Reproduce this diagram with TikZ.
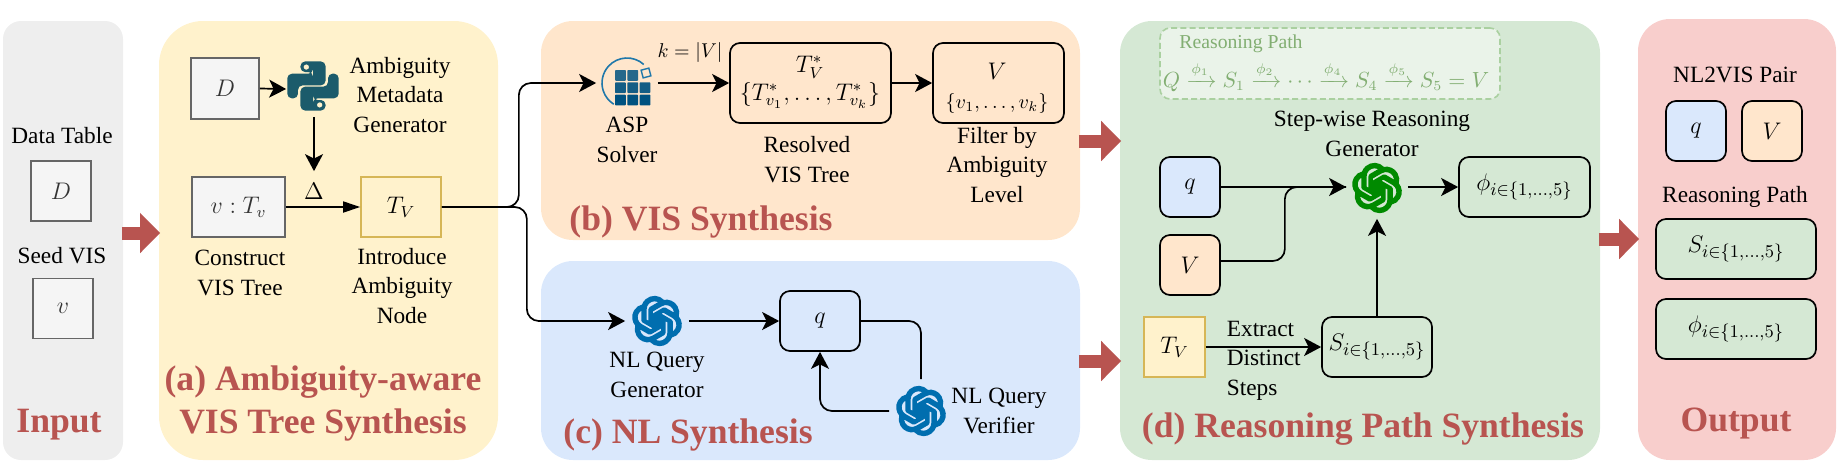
\documentclass[tikz,border=0pt]{standalone}
\usepackage{amsmath}
\usepackage{fontspec}
\setmainfont{Liberation Serif}
\usetikzlibrary{arrows.meta,svg.path}

\definecolor{redtext}{HTML}{B85450}
\definecolor{graybg}{HTML}{EEEEEE}
\definecolor{yellowbg}{HTML}{FFF2CC}
\definecolor{orangebg}{HTML}{FFE6CC}
\definecolor{bluebg}{HTML}{DAE8FC}
\definecolor{greenbg}{HTML}{D5E8D4}
\definecolor{pinkbg}{HTML}{F8CECC}
\definecolor{boxgray}{HTML}{666666}
\definecolor{boxfill}{HTML}{F5F5F5}
\definecolor{boxyellow}{HTML}{D6B656}
\definecolor{gptblue}{HTML}{006EAF}
\definecolor{gptgreen}{HTML}{008A00}
\definecolor{pycolor}{HTML}{1B5B6B}
\definecolor{pathgreen}{HTML}{82AE72}
\definecolor{pathdash}{HTML}{AAD0A0}
\definecolor{pathfill}{HTML}{EAF3E9}
\definecolor{aspring}{HTML}{2078AA}
\definecolor{aspgrid}{HTML}{005280}

\tikzset{
  panel/.style={draw=none,inner sep=0pt},
  lbl/.style={inner sep=0pt,align=center,anchor=base,font=\fontsize{11.65}{14.6}\selectfont},
  paneltitle/.style={inner sep=0pt,align=center,anchor=base,text=redtext,font=\bfseries\fontsize{17.8}{21.5}\selectfont},
  mathbox/.style={draw,line width=.85pt,rounded corners=5pt,inner sep=0pt,font=\fontsize{11.65}{14}\selectfont},
  graybox/.style={draw=boxgray,fill=boxfill,line width=.85pt,inner sep=0pt,text=black!80,font=\fontsize{11.65}{14}\selectfont},
  yellowbox/.style={draw=boxyellow,fill=yellowbg,line width=.85pt,inner sep=0pt,font=\fontsize{11.65}{14}\selectfont},
  subfont/.style={font=\fontsize{12.5}{14}\selectfont},
  iconspot/.style={circle,inner sep=0pt,minimum size=#1},
  bigarrow/.style={draw=redtext,line width=6.5pt,-{Triangle[length=10pt,width=19.5pt]},shorten >=-1pt,shorten <=-1pt},
  pics/gptlogo/.style={code={
    \begin{scope}[scale=1,yscale=-1,shift={(-12pt,-12pt)}]
      \filldraw[#1,even odd rule,line width=1.15pt,line join=round] svg {M 22.2819 9.8211 a 5.9847 5.9847 0 0 0 -0.5157 -4.9108 a 6.0462 6.0462 0 0 0 -6.5098 -2.9 A 6.0651 6.0651 0 0 0 4.9807 4.1818 a 5.9847 5.9847 0 0 0 -3.9977 2.9 a 6.0462 6.0462 0 0 0 0.7427 7.0966 a 5.98 5.98 0 0 0 0.511 4.9107 a 6.051 6.051 0 0 0 6.5146 2.9001 A 5.9847 5.9847 0 0 0 13.2599 24 a 6.0557 6.0557 0 0 0 5.7718 -4.2058 a 5.9894 5.9894 0 0 0 3.9977 -2.9001 a 6.0557 6.0557 0 0 0 -0.7475 -7.0729 z
        M 13.2599 22.4292 a 4.4755 4.4755 0 0 1 -2.8764 -1.0408 l 0.1419 -0.0804 l 4.7783 -2.7582 l 0.3927 -0.6813 v -6.7369 l 2.02 1.1686 l 0.038 0.052 v 5.5826 a 4.504 4.504 0 0 1 -4.4945 4.4944 z
        M 3.5992 18.3038 a 4.4708 4.4708 0 0 1 -0.5346 -3.0137 l 0.142 0.0852 l 4.783 2.7582 l 0.7806 0 l 5.8428 -3.3685 v 2.3324 l -0.0332 0.0615 L 9.74 19.9502 a 4.4992 4.4992 0 0 1 -6.1408 -1.6464 z
        M 2.3408 7.8956 a 4.485 4.485 0 0 1 2.3655 -1.9728 V 11.6 l 0.3879 0.6765 l 5.8144 3.3543 l -2.0201 1.1685 l -0.071 0 l -4.8303 -2.7865 A 4.504 4.504 0 0 1 2.3408 7.872 z
        M 18.9371 11.7514 L 13.1038 8.364 L 15.1192 7.2 l 0.071 0 l 4.8303 2.7913 a 4.4944 4.4944 0 0 1 -0.6765 8.1042 v -5.6772 l -0.407 -0.667 z
        M 20.9478 8.7283 l -0.142 -0.0852 l -4.7735 -2.7818 l -0.7854 0 L 9.409 9.2297 V 6.8974 l 0.0284 -0.0615 l 4.8303 -2.7866 a 4.4992 4.4992 0 0 1 6.6802 4.66 z
        M 8.3065 12.863 l -2.02 -1.1638 l -0.038 -0.0567 V 6.0742 a 4.4992 4.4992 0 0 1 7.3757 -3.4537 l -0.142 0.0805 L 8.704 5.459 l -0.3927 0.6813 z};
    \end{scope}}},
  pics/pylogo/.style={code={
    \begin{scope}[x=1.08pt,y=-1.04pt,shift={(-12,-12)}]
      \foreach \a in {0,180}
        \fill[pycolor,even odd rule,rotate around={\a:(12,12)},rounded corners=2.3pt]
          (6.2,.2) -- (17.8,.2) -- (17.8,11.67) -- (5.05,11.67) -- (5.05,17.93) -- (.1,17.93)
          -- (.1,6.1) -- (12,6.1) -- (12,5.27) -- (6.2,5.27) -- cycle
          [sharp corners] (8.9,2.9) circle[radius=1.3];
    \end{scope}}},
  pics/aspicon/.style={code={
    \draw[aspring,line width=.8pt] (-48:25) arc[start angle=-48,end angle=-238,radius=25];
    \foreach \r/\c/\k in {0/.85/0,0/.85/1,1/.92/0,1/.92/1,1/.92/2,2/1/0,2/1/1,2/1/2}
      \fill[aspgrid,fill opacity=\c,rounded corners=.4pt] (-12+12.3*\k,-13+12.3*\r) rectangle ++(10.8,10.8);
    \draw[aspring,line width=.7pt,rotate around={15:(19,-10)}] (15,-14) rectangle (23,-6);
  }}
}

\begin{document}
\begin{tikzpicture}[x=.5pt,y=-.5pt,>={Stealth[length=8.5pt,width=9pt,inset=2.2pt]},line width=.85pt]
  \useasboundingbox (0,0) rectangle (1839,467);
  % panels
  \path
  node[panel,fill=graybg,rounded corners=9pt,minimum width=60pt,minimum height=219.5pt] (p_in) at (63,240.5) {}
  node[panel,fill=yellowbg,rounded corners=22pt,minimum width=169.5pt,minimum height=219.5pt] (p_a) at (328.5,240.5) {}
  node[panel,fill=orangebg,rounded corners=16pt,minimum width=269.5pt,minimum height=109.5pt] (p_b) at (810.5,130.5) {}
  node[panel,fill=bluebg,rounded corners=16pt,minimum width=269.5pt,minimum height=99.5pt] (p_c) at (810.5,360.5) {}
  node[panel,fill=greenbg,rounded corners=16pt,minimum width=240pt,minimum height=219.5pt] (p_d) at (1360,240.5) {}
  node[panel,fill=pinkbg,rounded corners=16pt,minimum width=99pt,minimum height=220.5pt] (p_out) at (1737,239.5) {}
  ;
  % arrows between panels
  \coordinate (r_in) at (140,233);
  \coordinate (r_b) at (1100,141);
  \coordinate (r_c) at (1100,361);
  \coordinate (r_out) at (1620,239);
  \draw[bigarrow] (p_in.east |- r_in) -- (p_a.west |- r_in);
  \draw[bigarrow] (p_b.east |- r_b) -- (p_d.west |- r_b);
  \draw[bigarrow] (p_c.east |- r_c) -- (p_d.west |- r_c);
  \draw[bigarrow] (p_d.east |- r_out) -- (p_out.west |- r_out);
  % input
  \path
  node[lbl] (l_table) at (62,143) {Data Table}
  node[graybox,minimum width=30pt,minimum height=30pt] (d_in) at (61,191) {$D$}
  node[lbl] (l_seed) at (62,263) {Seed VIS}
  node[graybox,minimum width=30pt,minimum height=30pt] (v_in) at (63,308.5) {$v$}
  node[paneltitle] (t_in) at (59,432) {Input}
  ;
  % (a)
  \pic at (313,86) {pylogo};
  \path
  node[graybox,minimum width=34pt,minimum height=30.5pt] (d_a) at (225,88.5) {$D$}
  node[iconspot=54*.5pt] (py) at (314,89) {}
  node[lbl] (l_meta) at (400,132) {Ambiguity\\Metadata\\Generator}
  node[graybox,minimum width=46.5pt,minimum height=30pt] (v_a) at (238.5,207) {$v:T_v$}
  node[yellowbox,minimum width=40pt,minimum height=30pt] (tv_a) at (401,207) {$T_V$}
  node[lbl] (l_cons) at (240,295) {Construct\\VIS Tree}
  node[lbl] (l_intro) at (402,323) {Introduce\\Ambiguity\\Node}
  node[inner sep=0pt,minimum height=19.5pt,font=\fontsize{11.65}{14}\selectfont] (delta) at (314,191.5) {$\Delta$}
  node[paneltitle] (t_a) at (323,433) {(a) Ambiguity-aware\\VIS Tree Synthesis}
  ;
  \draw[->] (d_a.east) -- (py.west);
  \draw[->] (py.south) -- (delta.north);
  \draw[-{Stealth[length=8.5pt,width=5.5pt,inset=0pt]}] (v_a.east) -- (tv_a.west);
  % (b)
  \pic at (627,83) {aspicon};
  \path
  node[iconspot=30pt] (asp) at (627,83) {}
  node[lbl] (l_asp) at (627,162) {ASP\\Solver}
  node[lbl,font=\fontsize{9.7}{12}\selectfont] (l_k) at (690,57) {$k=|V|$}
  node[mathbox,minimum width=80.5pt,minimum height=40pt,align=center] (t_res) at (810.5,83) {}
  node[lbl] (t_res1) at (810,72) {$T_V^{*}$}
  node[lbl] (t_res2) at (810,100) {$\{T_{v_1}^{*},\dots,T_{v_k}^{*}\}$}
  node[lbl] (l_res) at (807,182) {Resolved\\VIS Tree}
  node[mathbox,minimum width=65.5pt,minimum height=40pt] (v_res) at (998.5,83) {}
  node[lbl] (v_res1) at (997,79) {$V$}
  node[lbl,font=\fontsize{10}{12}\selectfont] (v_res2) at (997,108) {$\{v_1,\dots,v_k\}$}
  node[lbl] (l_filter) at (997,202) {Filter by\\Ambiguity\\Level}
  node[paneltitle] (t_b) at (701,230) {(b) VIS Synthesis}
  ;
  \draw[->] (asp.east) -- (t_res.west);
  \draw[->] (t_res.east) -- (v_res.west);
  % (c)
  \pic at (657,321) {gptlogo=gptblue};
  \pic at (921,411) {gptlogo=gptblue};
  \path
  node[iconspot=31pt] (nl_gen) at (657,321) {}
  node[lbl] (l_gen) at (657,397) {NL Query\\Generator}
  node[mathbox,minimum width=40pt,minimum height=30pt] (q_c) at (820,321) {$q$}
  node[iconspot=31pt] (nl_ver) at (921,411) {}
  node[lbl] (l_ver) at (999,433) {NL Query\\Verifier}
  node[paneltitle] (t_c) at (688,443) {(c) NL Synthesis}
  ;
  \draw[->] (nl_gen.east) -- (q_c.west);
  \draw[rounded corners=6pt] (q_c.east) -| (nl_ver.north);
  \draw[->,rounded corners=6pt] (nl_ver.west) -| (q_c.south);
  % branches out of the ambiguity node
  \draw[->,rounded corners=6pt] (tv_a.east) -- ++(77,0) |- (asp.west);
  \draw[->,rounded corners=6pt] (tv_a.east) -- ++(85,0) |- (nl_gen.west);
  % (d)
  \path
  node[draw=pathdash,dash pattern=on 3pt off 1.6pt,fill=pathfill,rounded corners=5pt,line width=.8pt,inner sep=0pt,minimum width=170pt,minimum height=35.5pt] (p_path) at (1330,63.5) {}
  node[lbl,text=pathgreen,font=\fontsize{9.85}{12}\selectfont] (l_path) at (1241,48) {Reasoning Path}
  node[lbl,text=pathgreen,font=\fontsize{10.5}{12}\selectfont] (f_path) at (1326,87) {$Q\xrightarrow{\phi_1}S_1\xrightarrow{\phi_2}\cdots\xrightarrow{\phi_4}S_4\xrightarrow{\phi_5}S_5=V$}
  node[lbl] (l_step) at (1372,156) {Step-wise Reasoning\\Generator}
  node[mathbox,fill=bluebg,minimum width=30pt,minimum height=30pt] (q_d) at (1190,187) {$q$}
  node[mathbox,fill=orangebg,minimum width=30pt,minimum height=30pt] (v_d) at (1190,265) {$V$}
  node[yellowbox,minimum width=30.5pt,minimum height=30pt] (tv_d) at (1174.5,347) {$T_V$}
  node[iconspot=60*.5pt] (gpt_d) at (1377,188) {}
  node[mathbox,subfont,minimum width=65.5pt,minimum height=30pt] (phi_d) at (1524.5,187) {$\phi_{i\in\{1,\dots,5\}}$}
  node[mathbox,subfont,minimum width=55pt,minimum height=30pt] (s_d) at (1377,347) {$S_{i\in\{1,\dots,5\}}$}
  node[lbl,align=left,anchor=base west] (l_ext) at (1226,395) {Extract\\Distinct\\Steps}
  node[paneltitle] (t_d) at (1363,437) {(d) Reasoning Path Synthesis}
  ;
  \pic at (1377,188) {gptlogo=gptgreen};
  \draw[->] (q_d.east) -- (gpt_d.west |- q_d.east);
  \draw[rounded corners=6pt] ([yshift=2pt]v_d.east) -- ++(64,0) |- (q_d.east -| gpt_d.west);
  \draw[->] (gpt_d.east |- phi_d.west) -- (phi_d.west);
  \draw[->] (tv_d.east) -- (s_d.west);
  \draw[->] (s_d.north) -- (gpt_d.south);
  % output
  \path
  node[lbl] (l_pair) at (1735,82) {NL2VIS Pair}
  node[mathbox,fill=bluebg,minimum width=30pt,minimum height=30pt] (q_out) at (1696,131) {$q$}
  node[mathbox,fill=orangebg,minimum width=30pt,minimum height=30pt] (v_out) at (1772,131) {$V$}
  node[lbl] (l_rpath) at (1735,202) {Reasoning Path}
  node[mathbox,subfont,fill=greenbg,minimum width=80pt,minimum height=30pt] (s_out) at (1736,249) {$S_{i\in\{1,\dots,5\}}$}
  node[mathbox,subfont,fill=greenbg,minimum width=80pt,minimum height=30pt] (phi_out) at (1736,329) {$\phi_{i\in\{1,\dots,5\}}$}
  node[paneltitle] (t_out) at (1736,431) {Output}
  ;
\end{tikzpicture}
\end{document}
